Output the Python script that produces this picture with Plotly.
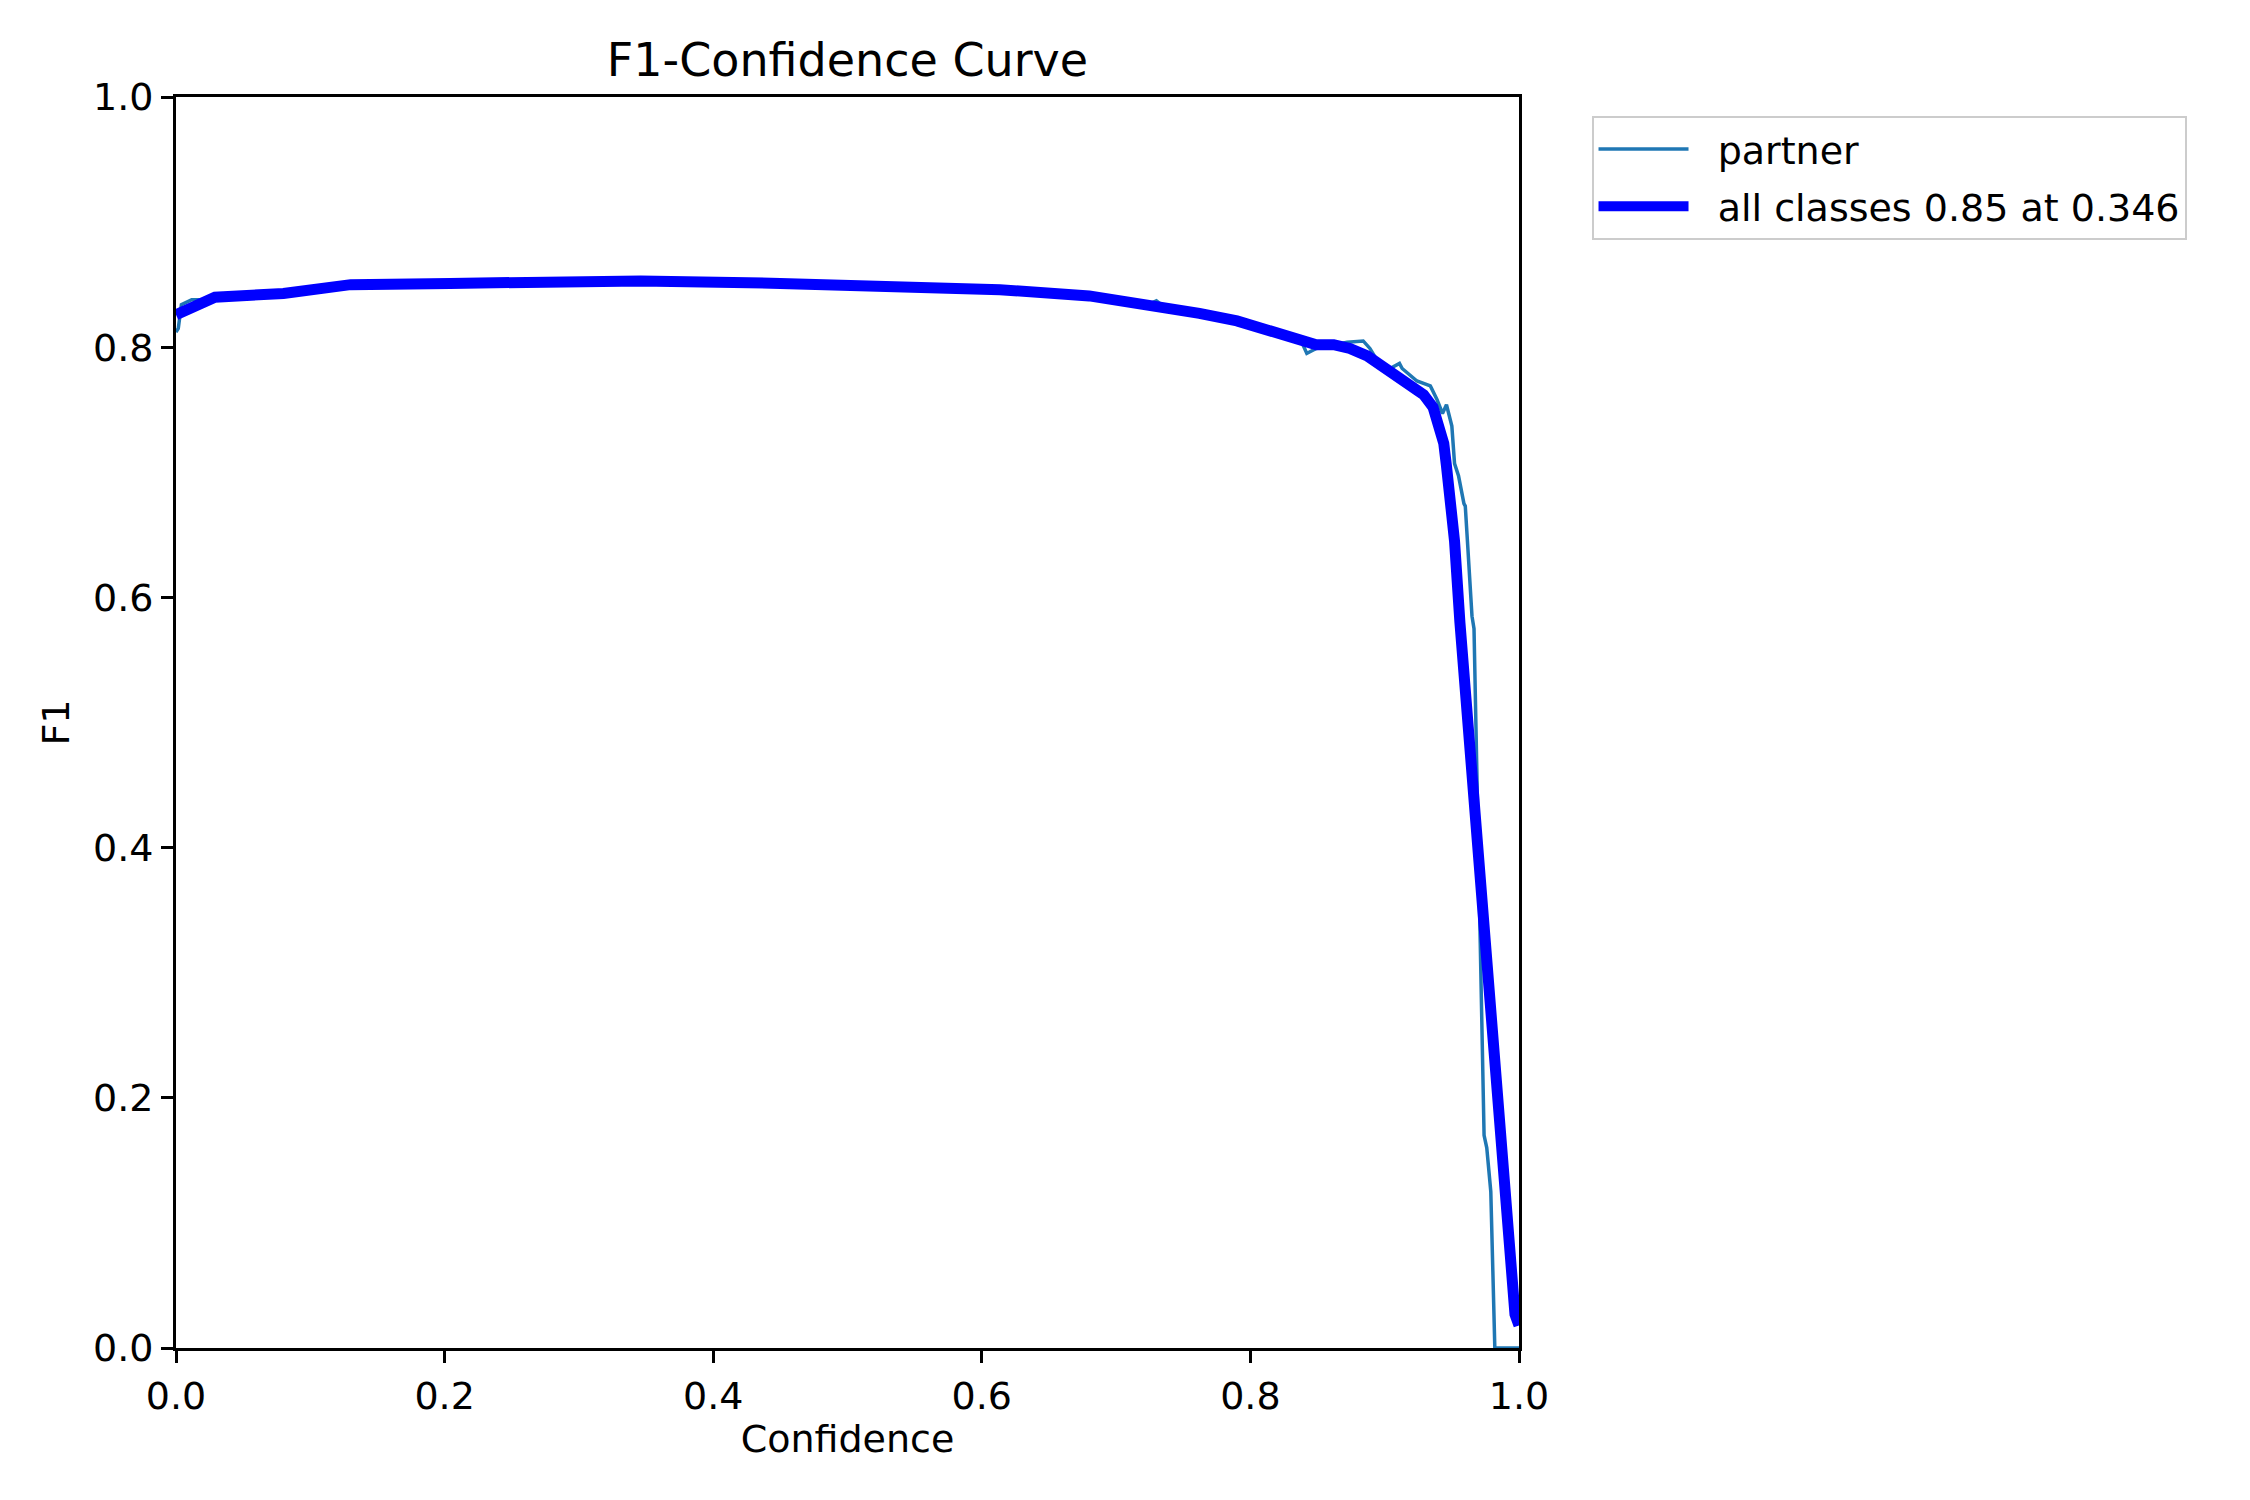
import plotly.graph_objects as go

# all classes (smoothed) curve
all_x = [0, 0.029, 0.08, 0.13, 0.204, 0.346, 0.45, 0.55, 0.6135, 0.68, 0.713,
         0.762, 0.79, 0.812, 0.824, 0.837, 0.849, 0.862, 0.874, 0.887, 0.9,
         0.913, 0.921, 0.929, 0.936, 0.941, 0.944, 0.946, 0.949, 0.952, 0.956,
         0.967, 0.975, 0.986, 0.991, 0.994, 0.997, 1.0]
all_y = [0.826, 0.840, 0.843, 0.850, 0.851, 0.853, 0.851, 0.848, 0.846, 0.841, 0.836,
         0.827, 0.821, 0.814, 0.808, 0.804, 0.802, 0.802, 0.799, 0.793, 0.784,
         0.775, 0.770, 0.762, 0.752, 0.735, 0.723, 0.705, 0.678, 0.645, 0.58,
         0.43, 0.30, 0.16, 0.085, 0.05, 0.027, 0.018]

# partner class curve
partner_x = [0, 0.0017, 0.004, 0.0117, 0.02, 0.029, 0.08, 0.13, 0.204, 0.346, 0.45,
             0.55, 0.6135, 0.68, 0.713, 0.724, 0.730, 0.736, 0.762, 0.79, 0.812,
             0.824, 0.837, 0.842, 0.849, 0.872, 0.884, 0.889, 0.898, 0.904, 0.911,
             0.913, 0.924, 0.934, 0.939, 0.943, 0.946, 0.95, 0.952, 0.955, 0.959,
             0.960, 0.962, 0.965, 0.9665, 0.970, 0.974, 0.976, 0.979, 0.982, 1.0]
partner_y = [0.812, 0.815, 0.834, 0.838, 0.838, 0.840, 0.843, 0.850, 0.851, 0.853, 0.851,
             0.848, 0.846, 0.841, 0.836, 0.834, 0.837, 0.832, 0.827, 0.821, 0.814,
             0.808, 0.807, 0.795, 0.799, 0.804, 0.805, 0.799, 0.783, 0.783, 0.787,
             0.783, 0.773, 0.769, 0.758, 0.747, 0.754, 0.737, 0.707, 0.697, 0.675,
             0.673, 0.638, 0.585, 0.575, 0.40, 0.17, 0.16, 0.125, 0.0, 0.0]

ticks = [0, 0.2, 0.4, 0.6, 0.8, 1.0]
font = "DejaVu Sans"
pad = "\u00a0\u00a0"  # gap between legend line and label

fig = go.Figure()
fig.add_trace(go.Scatter(x=partner_x, y=partner_y, mode="lines", name=pad + "partner",
                         legendgroup="a",
                         line=dict(color="#1f77b4", width=3.5)))
fig.add_trace(go.Scatter(x=all_x, y=all_y, mode="lines",
                         name=pad + "all classes 0.85 at 0.346",
                         legendgroup="b",
                         line=dict(color="#0000ff", width=11)))

axis_style = dict(range=[0, 1], tickvals=ticks, tickformat=".1f", showgrid=False,
                  zeroline=False, showline=True, linecolor="black", linewidth=2.8,
                  mirror=True, ticks="outside", ticklen=12, tickwidth=2.8,
                  tickcolor="black", tickfont=dict(size=38, color="black", family=font))

fig.update_xaxes(title=dict(text="Confidence", font=dict(size=38, color="black", family=font),
                            standoff=5), **axis_style)
fig.update_yaxes(title=dict(text="F1", font=dict(size=38, color="black", family=font),
                            standoff=12), **axis_style)

# page body adds an 8px offset, so the figure is 8px smaller and margins shifted
fig.update_layout(
    width=2242, height=1492,
    margin=dict(l=168, r=731, t=89, b=152),
    plot_bgcolor="white", paper_bgcolor="white",
    title=dict(text="F1-Confidence Curve", x=0.5, xref="paper", xanchor="center",
               y=1 - 52 / 1492, yanchor="middle",
               font=dict(size=46, color="black", family=font)),
    legend=dict(x=1.054, y=0.985, xanchor="left", yanchor="top",
                bordercolor="#cccccc", borderwidth=2, bgcolor="white",
                font=dict(size=38, color="black", family=font),
                itemwidth=90, tracegroupgap=5, traceorder="grouped"),
    font=dict(family=font, color="black"),
)

fig.write_html("out.html")
